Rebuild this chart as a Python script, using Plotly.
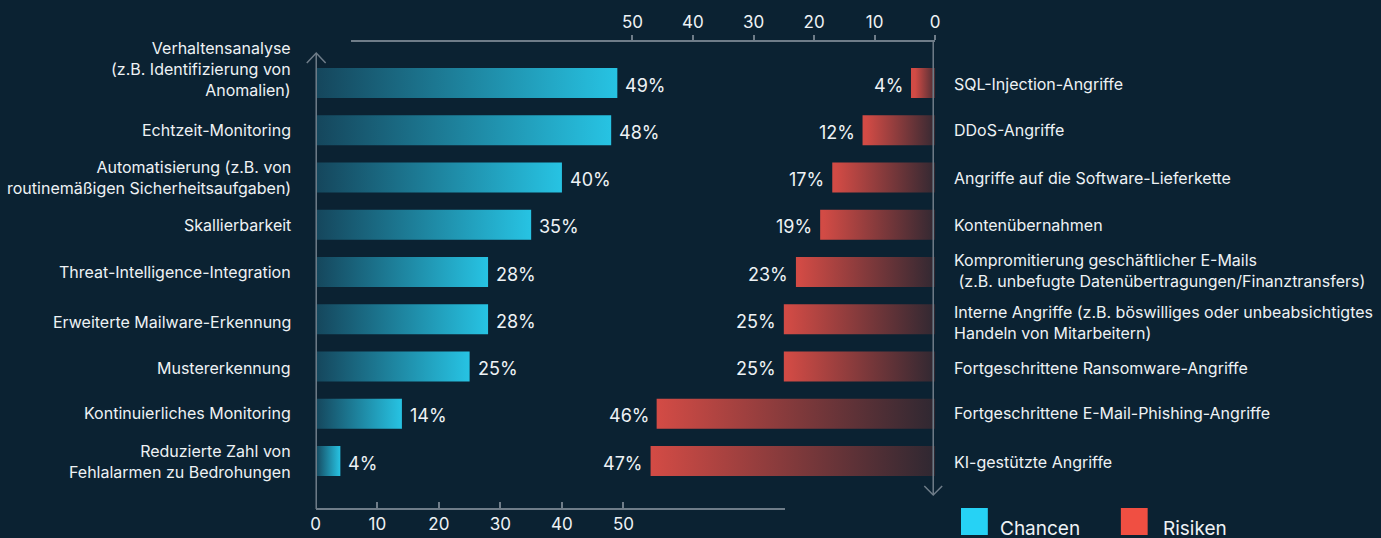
import plotly.graph_objects as go

# ---------------- data ----------------
chancen_labels = [
    "Verhaltensanalyse<br>(z.B. Identifizierung von<br>Anomalien)",
    "Echtzeit-Monitoring",
    "Automatisierung (z.B. von<br>routinemäßigen Sicherheitsaufgaben)",
    "Skallierbarkeit",
    "Threat-Intelligence-Integration",
    "Erweiterte Mailware-Erkennung",
    "Mustererkennung",
    "Kontinuierliches Monitoring",
    "Reduzierte Zahl von<br>Fehlalarmen zu Bedrohungen",
]
chancen_values = [49, 48, 40, 35, 28, 28, 25, 14, 4]

risiken_labels = [
    "SQL-Injection-Angriffe",
    "DDoS-Angriffe",
    "Angriffe auf die Software-Lieferkette",
    "Kontenübernahmen",
    "Kompromitierung geschäftlicher E-Mails<br> (z.B. unbefugte Datenübertragungen/Finanztransfers)",
    "Interne Angriffe (z.B. böswilliges oder unbeabsichtigtes<br>Handeln von Mitarbeitern)",
    "Fortgeschrittene Ransomware-Angriffe",
    "Fortgeschrittene E-Mail-Phishing-Angriffe",
    "KI-gestützte Angriffe",
]
risiken_values = [4, 12, 17, 19, 23, 25, 25, 46, 47]

tick_vals = [0, 10, 20, 30, 40, 50]
legend_names = ["Chancen", "Risiken"]

# ---------------- style ----------------
W, H = 1381, 538
BG = "#0b2232"
AXIS = "#6f7d89"
TXT = "#eef2f5"
FONT = "Inter"
CYAN_SCALE = [[0, "#15465c"], [1, "#27c4e4"]]
RED_SCALE = [[0, "#2c2731"], [1, "#d24b45"]]
HALF = 0.318  # half bar thickness in category units

# pixel geometry helpers
Y0_PX, DY_PX = 83.0, 47.25          # first category centre, spacing
LX0, LSCALE = 313.0, 6.2            # left panel: px of 0, px/unit
RX0, RSCALE = 937.0, 6.1            # right panel: px of 0, px/unit (reversed)

y_top = (0 - Y0_PX) / DY_PX
y_bot = (H - Y0_PX) / DY_PX

def py(pix):
    return 1 - pix / H

def px(pix):
    return pix / W

fig = go.Figure()

# left (Chancen) bars with gradient
for i, v in enumerate(chancen_values):
    fig.add_trace(go.Scatter(
        x=[0, v, v, 0, 0], y=[i - HALF, i - HALF, i + HALF, i + HALF, i - HALF],
        mode="lines", line=dict(width=0), fill="toself",
        fillgradient=dict(type="horizontal", colorscale=CYAN_SCALE, start=0, stop=v),
        xaxis="x", yaxis="y", hoverinfo="skip", showlegend=False))

# right (Risiken) bars with gradient
for i, v in enumerate(risiken_values):
    fig.add_trace(go.Scatter(
        x=[0, v, v, 0, 0], y=[i - HALF, i - HALF, i + HALF, i + HALF, i - HALF],
        mode="lines", line=dict(width=0), fill="toself",
        fillgradient=dict(type="horizontal", colorscale=RED_SCALE, start=0, stop=v),
        xaxis="x2", yaxis="y", hoverinfo="skip", showlegend=False))

annotations = []
# value labels
for i, v in enumerate(chancen_values):
    annotations.append(dict(x=v, y=i, xref="x", yref="y", text=f"{v}%", showarrow=False,
                            xanchor="left", xshift=6, yshift=-2,
                            font=dict(family=FONT, size=18, color=TXT)))
for i, v in enumerate(risiken_values):
    annotations.append(dict(x=v, y=i, xref="x2", yref="y", text=f"{v}%", showarrow=False,
                            xanchor="right", xshift=-6, yshift=-2,
                            font=dict(family=FONT, size=18, color=TXT)))

# category labels
left_shift = [14, 0, 0, 0, 0, -3, -1, 1, 0]
for i, lab in enumerate(chancen_labels):
    annotations.append(dict(x=px(290), y=i, xref="paper", yref="y", text=lab, showarrow=False,
                            xanchor="right", align="right", yshift=left_shift[i],
                            font=dict(family=FONT, size=16, color=TXT)))
right_shift = [-1, 0, 0, 0, 2, -3, -1, 1, -1]
for i, lab in enumerate(risiken_labels):
    annotations.append(dict(x=px(954), y=i, xref="paper", yref="y", text=lab, showarrow=False,
                            xanchor="left", align="left", yshift=right_shift[i],
                            font=dict(family=FONT, size=16, color=TXT)))

# legend
annotations.append(dict(x=px(1000), y=py(528), xref="paper", yref="paper", text=legend_names[0],
                        showarrow=False, xanchor="left", yanchor="middle",
                        font=dict(family=FONT, size=19, color=TXT)))
annotations.append(dict(x=px(1164), y=py(528), xref="paper", yref="paper", text=legend_names[1],
                        showarrow=False, xanchor="left", yanchor="middle",
                        font=dict(family=FONT, size=19, color=TXT)))

shapes = [
    # left vertical axis with arrow at top
    dict(type="line", xref="paper", yref="paper", x0=px(313.5), x1=px(313.5), y0=py(509), y1=py(53),
         line=dict(color=AXIS, width=1.5)),
    dict(type="path", xref="paper", yref="paper",
         path=f"M {px(304)},{py(63)} L {px(313.5)},{py(53)} L {px(323)},{py(63)}",
         line=dict(color=AXIS, width=1.5)),
    # right vertical axis with arrow at bottom
    dict(type="line", xref="paper", yref="paper", x0=px(935), x1=px(935), y0=py(41), y1=py(495),
         line=dict(color=AXIS, width=1.5)),
    dict(type="path", xref="paper", yref="paper",
         path=f"M {px(926)},{py(486)} L {px(935)},{py(495)} L {px(944)},{py(486)}",
         line=dict(color=AXIS, width=1.5)),
    # legend squares
    dict(type="rect", xref="paper", yref="paper", x0=px(963), x1=px(990), y0=py(535), y1=py(508),
         fillcolor="#26d2f5", line=dict(width=0)),
    dict(type="rect", xref="paper", yref="paper", x0=px(1124), x1=px(1151), y0=py(535), y1=py(508),
         fillcolor="#f04f42", line=dict(width=0)),
]

fig.update_layout(
    width=W, height=H, margin=dict(l=0, r=0, t=0, b=0),
    paper_bgcolor=BG, plot_bgcolor="rgba(0,0,0,0)", showlegend=False,
    font=dict(family=FONT, color=TXT),
    xaxis=dict(domain=[px(LX0), px(786)], range=[0, (786 - LX0) / LSCALE],
               anchor="free", position=py(509), side="bottom",
               showline=True, linecolor=AXIS, linewidth=1.5, showgrid=False, zeroline=False,
               tickvals=tick_vals, ticks="inside", ticklen=6, tickcolor=AXIS, tickwidth=1.5,
               tickfont=dict(family=FONT, size=17, color=TXT)),
    xaxis2=dict(domain=[px(349), px(RX0)], range=[(RX0 - 349) / RSCALE, 0],
                anchor="free", position=py(41), side="top",
                showline=True, linecolor=AXIS, linewidth=1.5, showgrid=False, zeroline=False,
                tickvals=tick_vals, ticks="outside", ticklen=5, tickcolor=AXIS, tickwidth=1.5,
                tickfont=dict(family=FONT, size=17, color=TXT)),
    yaxis=dict(domain=[0, 1], range=[y_bot, y_top], visible=False),
    annotations=annotations, shapes=shapes,
)

fig.write_html("out.html")
